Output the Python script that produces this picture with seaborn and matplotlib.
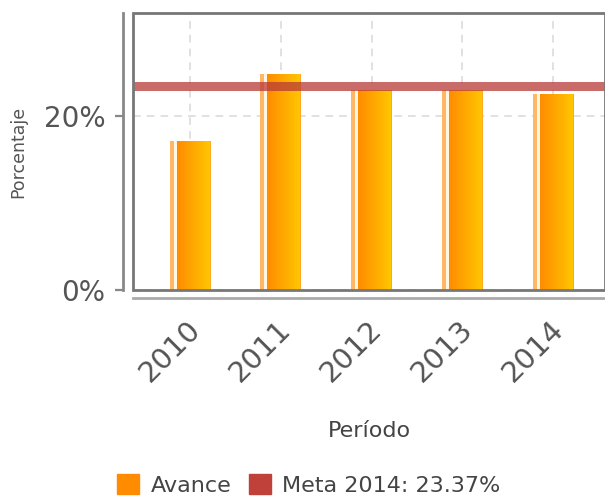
import numpy as np
import pandas as pd
import matplotlib
matplotlib.use("Agg")
import matplotlib.pyplot as plt
import seaborn as sns
from matplotlib.patches import Rectangle, Patch
from matplotlib.transforms import ScaledTranslation

# data
periodos = ["2010", "2011", "2012", "2013", "2014"]
avance = [17.1, 24.8, 23.0, 23.0, 22.5]
meta_2014 = 23.37
meta_label = "Meta 2014: 23.37%"

df = pd.DataFrame({"Periodo": periodos, "Avance": avance})

sns.set_style("white")
plt.rcParams["font.family"] = ["DejaVu Sans"]

fig = plt.figure(figsize=(6.05, 5.0), dpi=100)
ax = fig.add_axes([133 / 605, 1 - 290 / 500, 1 - 133 / 605, (290 - 13) / 500])

sns.barplot(data=df, x="Periodo", y="Avance", ax=ax, width=0.45,
            color="#FF8C00", edgecolor="none", zorder=2)

# orange -> yellow gradient with a thin light strip on the left of each bar
ncol = 41
grad = np.zeros((1, ncol, 3))
start = np.array([1.0, 0.55, 0.0])
end = np.array([1.0, 0.78, 0.0])
for i in range(ncol):
    if i < 4:
        grad[0, i] = [1.0, 0.72, 0.4]
    elif i < 7:
        grad[0, i] = [1.0, 0.97, 0.9]
    elif i == ncol - 1:
        grad[0, i] = [1.0, 0.66, 0.15]
    else:
        t = (i - 7) / (ncol - 8)
        grad[0, i] = start + (end - start) * t

for p in ax.patches:
    x0, w, h = p.get_x(), p.get_width(), p.get_height()
    p.set_facecolor("none")
    im = ax.imshow(grad, extent=[x0, x0 + w, 0, h], aspect="auto",
                   interpolation="bilinear", zorder=2)
    im.set_clip_path(p)

ax.axhline(meta_2014, color="#B83A36", alpha=0.75, lw=6.5, zorder=3)

# frame box plus offset axis lines (spine moves reset ticks, so do it first)
for s in ["top", "right"]:
    ax.spines[s].set_visible(False)
ax.spines["left"].set_position(("outward", 7))
ax.spines["left"].set_color("#888888")
ax.spines["left"].set_linewidth(2)
ax.spines["bottom"].set_position(("outward", 6))
ax.spines["bottom"].set_color("#aaaaaa")
ax.spines["bottom"].set_linewidth(2)
ax.add_patch(Rectangle((0, 0), 1, 1, transform=ax.transAxes, fill=False,
                       ec="#777777", lw=2, zorder=4, clip_on=False))

ax.set_xlim(-0.628, 4.57)
ax.set_ylim(0, 31.8)
ax.set_yticks([0, 20])
ax.set_yticklabels(["0%", "20%"])
ax.set_xticks(range(len(periodos)))
ax.set_xticklabels(periodos)
ax.tick_params(axis="x", bottom=False, length=0, pad=12, labelsize=21,
               labelcolor="#555555", labelrotation=45)
ax.tick_params(axis="y", left=True, length=6, width=1.6, color="#888888",
               pad=7, labelsize=20, labelcolor="#555555")
shift = ScaledTranslation(16 / 100, 0, fig.dpi_scale_trans)
for lab in ax.get_xticklabels():
    lab.set_ha("right")
    lab.set_transform(lab.get_transform() + shift)

ax.grid(True, color="#d8d8d8", linestyle=(0, (5, 4)), lw=1.1, zorder=0)
ax.set_axisbelow(True)

ax.set_ylabel("Porcentaje", fontsize=12.5, color="#555555", labelpad=12)
ax.set_xlabel("Período", fontsize=16, color="#444444", labelpad=24)

handles = [Patch(color="#FF8C00"), Patch(color="#C0403A")]
fig.legend(handles, ["Avance", meta_label], loc="center",
           bbox_to_anchor=(309 / 605, 1 - 485 / 500), ncol=2, frameon=False,
           fontsize=16, handlelength=1.0, handleheight=1.0, handletextpad=0.5,
           columnspacing=0.8, labelcolor="#444444", borderpad=0.2)

fig.savefig("out.png", dpi=100)
